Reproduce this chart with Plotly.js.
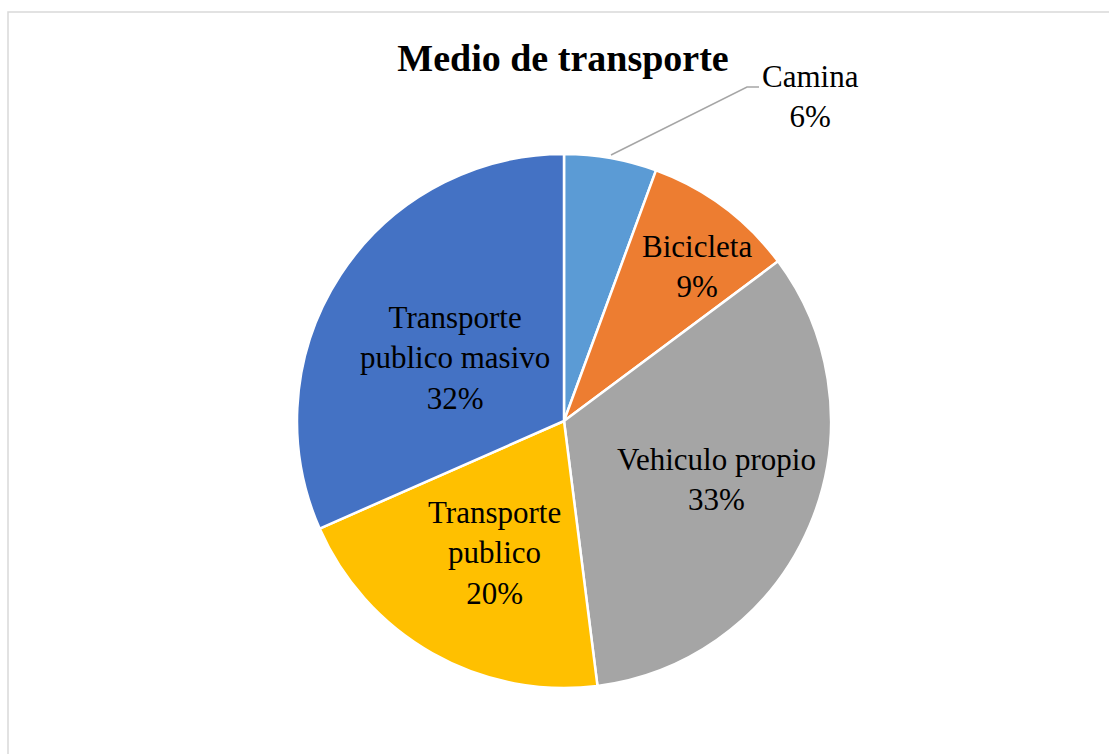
<!DOCTYPE html>
<html>
<head>
<meta charset="utf-8">
<script src="https://cdn.plot.ly/plotly-3.0.1.min.js"></script>
<style>html,body{margin:0;padding:0;background:#fff;}#chart{width:1109px;height:754px;}</style>
</head>
<body>
<div id="chart"></div>
<script>
// Data
const categories = ["Camina", "Bicicleta", "Vehiculo propio", "Transporte publico", "Transporte publico masivo"];
const displayLabels = ["Camina", "Bicicleta", "Vehiculo propio", "Transporte<br>publico", "Transporte<br>publico masivo"];
const values = [5.6, 9.2, 33.2, 20.4, 31.6];
const colors = ["#5B9BD5", "#ED7D31", "#A5A5A5", "#FFC000", "#4472C4"];

const W = 1109, H = 754;
const total = values.reduce((a, b) => a + b, 0);
const pct = values.map(v => Math.round(v / total * 100) + "%");

const serif = "Liberation Serif";

const trace = {
  type: "pie",
  labels: categories,
  values: values,
  textinfo: "none",
  marker: { colors: colors, line: { color: "#ffffff", width: 2.5 } },
  sort: false,
  direction: "clockwise",
  rotation: 0,
  hoverinfo: "label+percent",
  domain: { x: [297 / W, 831 / W], y: [1 - 688 / H, 1 - 154 / H] },
  showlegend: false
};

// Data-label placement (pixel centres, layout only)
const labelPx = [[810, 97], [697, 266], [716, 479], [494, 553], [455, 358]];

const annotations = categories.map((c, i) => ({
  xref: "paper", yref: "paper",
  x: labelPx[i][0] / W, y: 1 - labelPx[i][1] / H,
  xanchor: "center", yanchor: "middle", align: "center", showarrow: false,
  text: displayLabels[i] + "<br>" + pct[i],
  font: { family: serif, size: 31, color: "#000" }
}));

const layout = {
  width: W, height: H,
  margin: { l: 0, r: 0, t: 0, b: 0 },
  paper_bgcolor: "#fff",
  font: { family: serif },
  title: {
    text: "<b>Medio de transporte</b>",
    font: { family: serif, size: 38, color: "#000" },
    x: 563 / W, xanchor: "center",
    y: 1 - 58 / H, yanchor: "middle"
  },
  shapes: [
    { type: "rect", xref: "paper", yref: "paper", x0: 8 / W, x1: 1.02, y0: -0.02, y1: 1 - 12 / H,
      line: { color: "#d9d9d9", width: 1.5 }, fillcolor: "rgba(0,0,0,0)", layer: "below" },
    { type: "path", xref: "paper", yref: "paper",
      path: "M " + (611 / W) + "," + (1 - 155 / H) + " L " + (747 / W) + "," + (1 - 87 / H) + " L " + (759 / W) + "," + (1 - 87 / H),
      line: { color: "#a6a6a6", width: 1.5 } }
  ],
  annotations: annotations
};

Plotly.newPlot("chart", [trace], layout, { displayModeBar: false, staticPlot: true });
</script>
</body>
</html>
